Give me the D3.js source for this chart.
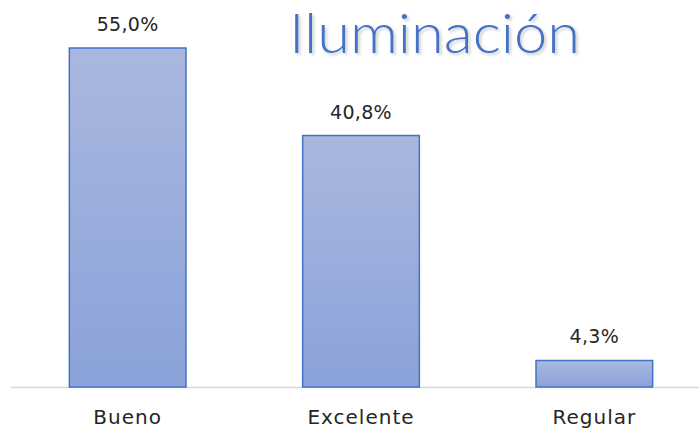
<!DOCTYPE html>
<html>
<head>
<meta charset="utf-8">
<script src="https://cdn.jsdelivr.net/npm/d3@7"></script>
<style>
  body { margin: 0; background: #fff; }
  text { font-family: "DejaVu Sans", sans-serif; }
</style>
</head>
<body>
<div id="chart"></div>
<script>
// Data
const categories = ['Bueno', 'Excelente', 'Regular'];
const values = [55.0, 40.8, 4.3];
const title = 'Iluminación';

const width = 699, height = 429;
const baseline = 387;

const svg = d3.select('#chart')
    .append('svg')
    .attr('width', width)
    .attr('height', height);

// Gradient + shadow
const defs = svg.append('defs');
const grad = defs.append('linearGradient')
    .attr('id', 'barGrad')
    .attr('x1', 0).attr('y1', 0).attr('x2', 0).attr('y2', 1);
grad.append('stop').attr('offset', '0%').attr('stop-color', '#aab8df');
grad.append('stop').attr('offset', '100%').attr('stop-color', '#8aa2d9');

const shadow = defs.append('filter').attr('id', 'shadow')
    .attr('x', '-10%').attr('y', '-10%').attr('width', '120%').attr('height', '130%');
shadow.append('feDropShadow')
    .attr('dx', 2).attr('dy', 2).attr('stdDeviation', 1.5)
    .attr('flood-color', '#000').attr('flood-opacity', 0.2);

// Scales
const xScale = d3.scaleBand()
    .domain(categories)
    .range([11, 711])
    .paddingInner(0.5)
    .paddingOuter(0.25);

const yScale = d3.scaleLinear()
    .domain([0, 55])
    .range([baseline, 48]);

// Axis line
svg.append('line')
    .attr('x1', 11).attr('x2', width)
    .attr('y1', baseline + 0.5).attr('y2', baseline + 0.5)
    .attr('stroke', '#d9d9d9')
    .attr('stroke-width', 1.5);

// Bars
svg.selectAll('.bar')
    .data(values)
    .enter()
    .append('rect')
    .attr('class', 'bar')
    .attr('x', (d, i) => xScale(categories[i]))
    .attr('y', d => yScale(d))
    .attr('width', xScale.bandwidth())
    .attr('height', d => baseline - yScale(d))
    .attr('fill', 'url(#barGrad)')
    .attr('stroke', '#4472c4')
    .attr('stroke-width', 1.5);

// Value labels
svg.selectAll('.val')
    .data(values)
    .enter()
    .append('text')
    .attr('class', 'val')
    .attr('x', (d, i) => xScale(categories[i]) + xScale.bandwidth() / 2)
    .attr('y', d => yScale(d) - 17)
    .attr('text-anchor', 'middle')
    .style('font-size', '19px')
    .style('letter-spacing', '0.3px')
    .style('fill', '#262626')
    .text(d => d.toFixed(1).replace('.', ',') + '%');

// Category labels
svg.selectAll('.cat')
    .data(categories)
    .enter()
    .append('text')
    .attr('class', 'cat')
    .attr('x', d => xScale(d) + xScale.bandwidth() / 2)
    .attr('y', 424)
    .attr('text-anchor', 'middle')
    .style('font-size', '20px')
    .style('letter-spacing', '1px')
    .style('fill', '#262626')
    .text(d => d);

// Title
svg.append('text')
    .attr('x', 289)
    .attr('y', 53)
    .attr('textLength', 291)
    .attr('lengthAdjust', 'spacingAndGlyphs')
    .style('font-family', '"Lato", sans-serif')
    .style('font-size', '55px')
    .style('font-weight', 300)
    .style('fill', '#4472c4')
    .attr('filter', 'url(#shadow)')
    .text(title);
</script>
</body>
</html>
